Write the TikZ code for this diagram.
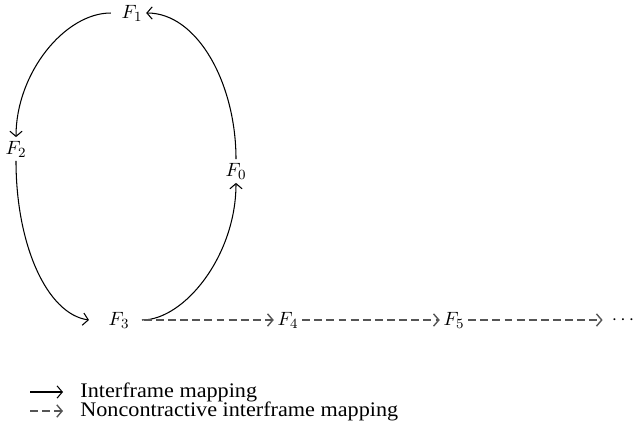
\documentclass[tikz,border=0pt]{standalone}
\usepackage{fontspec}
\setmainfont{Liberation Serif}
\usepackage{tikz}
\usetikzlibrary{arrows.meta,positioning}
\definecolor{dashgray}{HTML}{555555}

\begin{document}
\begin{tikzpicture}[x=0.02cm, y=-0.02cm,
    frm/.style={inner sep=2pt, font=\fontsize{11}{13}\selectfont},
    legtxt/.style={anchor=west, inner sep=0pt, xscale=1.07,
                   font=\fontsize{11.8}{13}\selectfont},
    arr/.style={-{Straight Barb[length=3pt,width=7pt]}, line width=0.6pt, black},
    dasharr/.style={-{Straight Barb[length=3pt,width=7pt]}, line width=0.8pt,
                    color=dashgray, dash pattern=on 4.5pt off 2.4pt}
]
  \useasboundingbox (0,0) rectangle (637,433);
  % frames
  \node[frm] (F1) at (132,13) {$F_1$};
  \node[frm] (F2) at (16,149) {$F_2$};
  \node[frm] (F0) at (236,171) {$F_0$};
  \node[frm] (F3) at (119,320) {$F_3$};
  \node[frm] (F4) at (288,320) {$F_4$};
  \node[frm] (F5) at (454,320) {$F_5$};
  \node[frm] (dots) at (623,320) {$\cdots$};
  % loop
  \draw[arr, shorten <=4pt] (F1.west) .. controls +(-53,0) and +(0,-64) .. (F2.north);
  \draw[arr] (F2.south) .. controls +(0,84) and +(-42,-6) .. ([xshift=-9pt]F3.west);
  \draw[arr, shorten <=5pt] (F3.east) .. controls +(51,0) and +(0,73) .. (F0.south);
  \draw[arr] (F0.north) .. controls +(0,-76) and +(51,0) .. (F1.east);
  % chain
  \draw[dasharr, shorten <=6pt] (F3.east) -- (F4.west);
  \draw[dasharr] (F4.east) -- (F5.west);
  \draw[dasharr, shorten >=3pt] (F5.east) -- (dots.west);
  % legend
  \coordinate (s1) at (30,392);
  \coordinate (e1) at (63,392);
  \coordinate (s2) at (30,411);
  \coordinate (e2) at (63,411);
  \draw[arr] (s1) -- (e1);
  \draw[dasharr] (s2) -- (e2);
  \node[legtxt] (leg1) at (80,392) {Interframe mapping};
  \node[legtxt] (leg2) at (80,411.5) {Noncontractive interframe mapping};
\end{tikzpicture}
\end{document}
